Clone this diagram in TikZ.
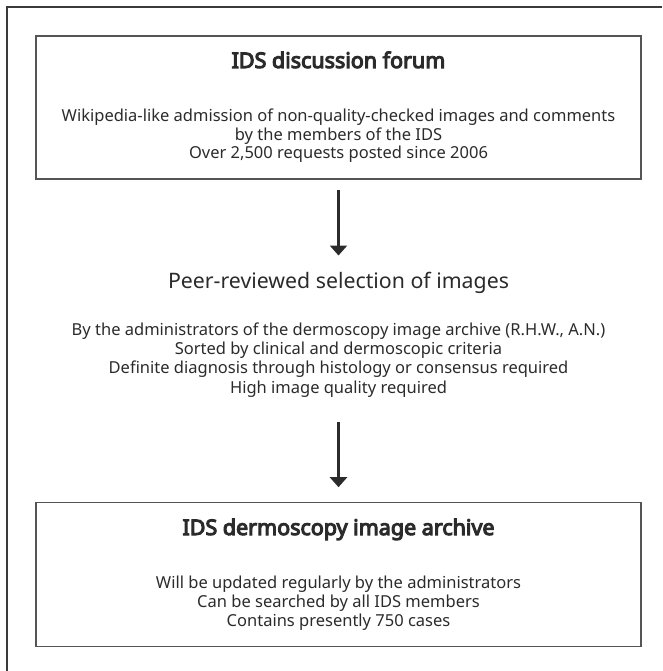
\documentclass[tikz,border=0pt]{standalone}
\usepackage{fontspec}
\setmainfont{Noto Sans}[AutoFakeBold=5]
\usetikzlibrary{arrows.meta}
\definecolor{framegray}{HTML}{3A3A3A}
\definecolor{boxgray}{HTML}{555555}
\definecolor{inkgray}{HTML}{2B2B2B}
\tikzset{
  panel/.style={draw=boxgray, line width=1.6pt, minimum width=605pt, inner sep=0pt},
  headtext/.style={anchor=base, inner sep=0pt, font=\fontsize{21.5}{25}\selectfont\bfseries, text=inkgray},
  stagetext/.style={anchor=base, inner sep=0pt, font=\fontsize{21.3}{25}\selectfont, text=inkgray},
  bodytext/.style={anchor=base, inner sep=0pt, align=center, text=inkgray},
  flowarrow/.style={line width=3pt, draw=inkgray, -{Triangle[width=17pt,length=10pt]}}
}
\begin{document}
\begin{tikzpicture}[x=1pt,y=-1pt]
    \useasboundingbox (0,0) rectangle (662,671);
    \draw[framegray, line width=1.5pt] (7,671) -- (7,7) -- (662,7);

    \node[panel, minimum height=143pt] (forum) at (338.5,107.5) {};
    \node[headtext] (forumtitle) at (338.5,68) {IDS discussion forum};
    \node[bodytext, font=\fontsize{16.5}{18.5}\selectfont] (forumtext) at (338.5,159) {Wikipedia-like admission of non-quality-checked images and comments\\by the members of the IDS\\Over 2,500 requests posted since 2006};

    \node[stagetext] (peertitle) at (338.5,288) {Peer-reviewed selection of images};
    \node[bodytext, font=\fontsize{16.5}{19.3}\selectfont] (peertext) at (338.5,393) {By the administrators of the dermoscopy image archive (R.H.W., A.N.)\\Sorted by clinical and dermoscopic criteria\\Definite diagnosis through histology or consensus required\\High image quality required};

    \node[panel, minimum height=144pt] (archive) at (338.5,574.5) {};
    \node[headtext] (archivetitle) at (338.5,535) {IDS dermoscopy image archive};
    \node[bodytext, font=\fontsize{16.5}{19}\selectfont] (archivetext) at (338.5,626) {Will be updated regularly by the administrators\\Can be searched by all IDS members\\Contains presently 750 cases};

    \draw[flowarrow, shorten <=10pt, shorten >=16pt] (forum.south) -- (peertitle.north);
    \draw[flowarrow, shorten <=25pt, shorten >=14.5pt] (peertext.south) -- (archive.north);
\end{tikzpicture}
\end{document}
